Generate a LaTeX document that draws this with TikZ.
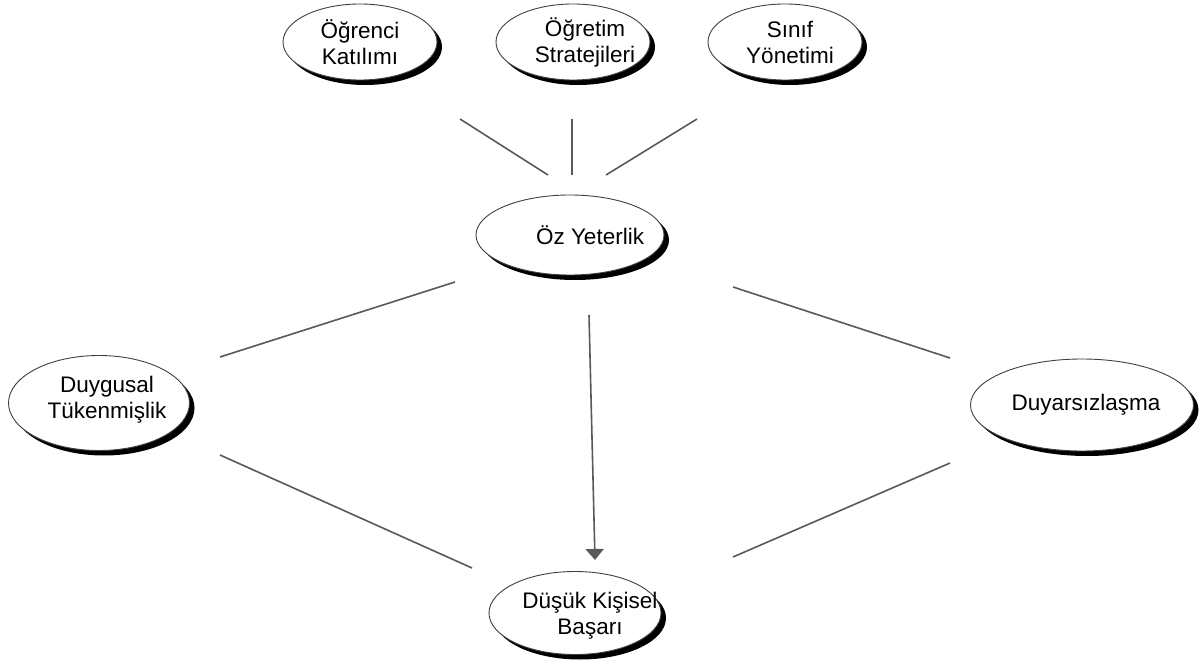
\documentclass[tikz,border=0pt]{standalone}
\usepackage{fontspec}
\setmainfont{Liberation Sans}
\usetikzlibrary{shapes.geometric,shadows,calc,arrows.meta}
\begin{document}
\begin{tikzpicture}[x=1pt,y=-1pt,
  oval/.style={ellipse, draw=black!75, line width=0.9pt, fill=white, inner sep=0pt,
    drop shadow={shadow xshift=5pt, shadow yshift=-5pt, fill=black, opacity=1}},
  lbl/.style={align=center, inner sep=0pt, font=\fontsize{22.5}{26}\selectfont},
  link/.style={draw=black!65, line width=1.6pt},
  arr/.style={link, -{Triangle[width=18pt,length=11pt,fill=black!65]}}]
\useasboundingbox (0,0) rectangle (1203,671);
\fill[white] (0,0) rectangle (1203,671);

\node[oval, minimum width=154, minimum height=76,
  label={[lbl]center:Öğrenci\\Katılımı}] (a1) at (360,42) {};
\node[oval, minimum width=154, minimum height=76,
  label={[lbl,xshift=12pt]center:Öğretim\\Stratejileri}] (a2) at (573,42) {};
\node[oval, minimum width=154, minimum height=76,
  label={[lbl,xshift=5pt]center:Sınıf\\Yönetimi}] (a3) at (785,42) {};
\node[oval, minimum width=188, minimum height=80,
  label={[lbl,xshift=20pt]center:Öz Yeterlik}] (oz) at (570,235) {};
\node[oval, minimum width=181, minimum height=95,
  label={[lbl,xshift=8pt,yshift=3pt]center:Duygusal\\Tükenmişlik}] (dt) at (99,403) {};
\node[oval, minimum width=223, minimum height=92,
  label={[lbl,xshift=4pt]center:Duyarsızlaşma}] (dy) at (1082,405) {};
\node[oval, minimum width=172, minimum height=83,
  label={[lbl,xshift=15pt,yshift=-3pt]center:Düşük Kişisel\\Başarı}] (dk) at (575,613) {};

\draw[link] ($(a1)+(100,77)$) -- ($(oz)+(-22,-60)$);
\draw[link] ($(a2)+(-1,77)$) -- ($(oz)+(2,-60)$);
\draw[link] ($(a3)+(-88,77)$) -- ($(oz)+(36,-60)$);
\draw[link] ($(oz)+(-115,47)$) -- ($(dt)+(121,-46)$);
\draw[link] ($(oz)+(163,52)$) -- ($(dy)+(-132,-47)$);
\draw[link] ($(dt)+(121,52)$) -- ($(dk)+(-103,-45)$);
\draw[link] ($(dy)+(-132,58)$) -- ($(dk)+(158,-56)$);
\draw[arr] ($(oz)+(19,80)$) -- ($(dk)+(20,-53)$);
\end{tikzpicture}
\end{document}
